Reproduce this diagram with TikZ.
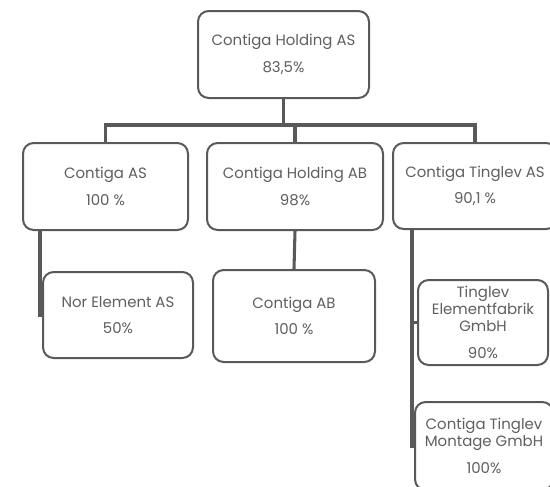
\documentclass[tikz,border=0pt]{standalone}
\usepackage{fontspec}
\setmainfont{Poppins}
\definecolor{linegray}{HTML}{595959}
\definecolor{textgray}{HTML}{5F5F5F}
\begin{document}
\begin{tikzpicture}[x=0.75pt, y=-0.75pt,
    unit/.style={draw=linegray, line width=1.5pt, rounded corners=8pt, fill=white,
        text=textgray, align=center, inner sep=0pt,
        font=\fontsize{11.2}{12.8}\selectfont},
    link/.style={draw=linegray, line width=2.3pt}]
\useasboundingbox (0,0) rectangle (550,486);
\begin{scope}
\clip (0,0) rectangle (550,486);
% owner
\node[unit, minimum width=128.25pt, minimum height=65.25pt] (top) at (283.5,54.5) {Contiga Holding AS\\[7pt]83,5\%};
% second level
\node[unit, minimum width=123.75pt, minimum height=65.25pt] (cas) at (105.5,186.5) {Contiga AS\\[7pt]100 \%};
\node[unit, minimum width=132pt, minimum height=65.25pt] (cha) at (295,186.5) {Contiga Holding AB\\[7pt]98\%};
\node[unit, minimum width=123pt, minimum height=64.5pt] (cta) at (475,186) {Contiga Tinglev AS\\[7pt]90,1 \%};
% third level
\node[unit, minimum width=112.5pt, minimum height=64.5pt] (nor) at (118,315) {Nor Element AS\\[7pt]50\%};
\node[unit, minimum width=121.5pt, minimum height=69pt] (cab) at (294,316) {Contiga AB\\[7pt]100 \%};
\node[unit, minimum width=97.5pt, minimum height=63.75pt] (tef) at (483,322.5) {Tinglev\\Elementfabrik\\GmbH\\[7pt]90\%};
\node[unit, minimum width=103.5pt, minimum height=66pt] (ctm) at (484,446) {Contiga Tinglev\\Montage GmbH\\[7pt]100\%};
% connectors
\coordinate (bar) at (0,125);
\coordinate (casspine) at (40,0);
\coordinate (ctaspine) at (412,0);
\draw[link] (top.south) -- (top.south |- bar);
\draw[link] (cas.north) |- (bar -| cta.north) -- (cta.north);
\draw[link] (cha.north) -- (cha.north |- bar);
\draw[link] (cha.south) -- (cab.north);
\draw[link] (cas.south -| casspine) |- (nor.west);
\draw[link] (cta.south -| ctaspine) |- (ctm.west);
\draw[link] (tef.west -| ctaspine) -- (tef.west);
\end{scope}
\end{tikzpicture}
\end{document}
